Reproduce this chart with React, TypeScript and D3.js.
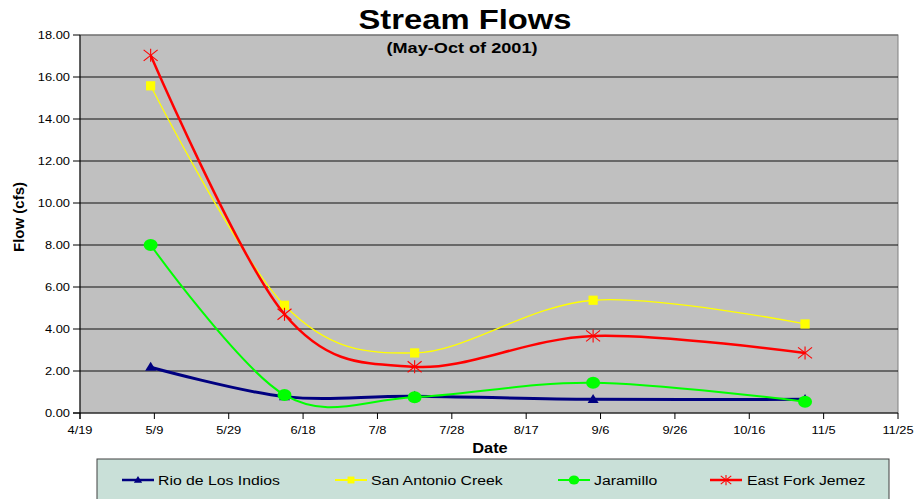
import React from "react";
import * as d3 from "d3";

const YEAR = 2001;
const dates = ["5/8", "6/13", "7/18", "9/4", "10/31"];
const rioDeLosIndios = [2.18, 0.78, 0.8, 0.65, 0.65];
const sanAntonioCreek = [15.58, 5.13, 2.86, 5.37, 4.24];
const jaramillo = [8.0, 0.86, 0.75, 1.44, 0.54];
const eastForkJemez = [17.03, 4.7, 2.2, 3.67, 2.86];
const seriesNames = ["Rio de Los Indios", "San Antonio Creek", "Jaramillo", "East Fork Jemez"];
const xTickLabels = ["4/19", "5/9", "5/29", "6/18", "7/8", "7/28", "8/17", "9/6", "9/26", "10/16", "11/5", "11/25"];
const yTickValues = [0, 2, 4, 6, 8, 10, 12, 14, 16, 18];

const parse = (s: string) => {
  const [m, d] = s.split("/").map(Number);
  return new Date(YEAR, m - 1, d);
};

const W = 914, H = 499;
const L = 80, R = 898, T = 35, B = 413;
const SX = 1.17; // horizontal stretch seen in the reference

const x = d3.scaleTime().domain([parse(xTickLabels[0]), parse(xTickLabels[xTickLabels.length - 1])]).range([L, R]);
const y = d3.scaleLinear().domain([0, 18]).range([B, T]);

const FONT = "Arial, 'Liberation Sans', Helvetica, sans-serif";

function SText(props: { x: number; y: number; size: number; bold?: boolean; anchor?: string; children: any; sx?: number }) {
  const { x: tx, y: ty, size, bold, anchor = "start", children, sx = SX } = props;
  return (
    <text transform={`translate(${tx},${ty}) scale(${sx},1)`} fontFamily={FONT} fontSize={size}
      fontWeight={bold ? "bold" : "normal"} textAnchor={anchor} fill="#000">{children}</text>
  );
}

type Kind = "tri" | "sq" | "circ" | "star";
function Marker({ kind, cx, cy, s = 1 }: { kind: Kind; cx: number; cy: number; s?: number }) {
  if (kind === "tri") {
    const w = 5.5 * s, h = 9 * s;
    return <path d={`M${cx},${cy - h * 0.6}L${cx + w},${cy + h * 0.4}L${cx - w},${cy + h * 0.4}Z`} fill="#000080" />;
  }
  if (kind === "sq") {
    const a = 4.6 * s;
    return <rect x={cx - a} y={cy - a} width={2 * a} height={2 * a} fill="#FFFF00" />;
  }
  if (kind === "circ") {
    return <ellipse cx={cx} cy={cy} rx={7 * s} ry={6 * s} fill="#00FF00" />;
  }
  const a = 7 * s, b = 5.5 * s;
  return (
    <g stroke="#FF0000" strokeWidth={1.1}>
      <line x1={cx - a} y1={cy - b} x2={cx + a} y2={cy + b} />
      <line x1={cx - a} y1={cy + b} x2={cx + a} y2={cy - b} />
      <line x1={cx} y1={cy - b - 1} x2={cx} y2={cy + b + 1} />
    </g>
  );
}

const series: { name: string; values: number[]; color: string; width: number; kind: Kind }[] = [
  { name: seriesNames[0], values: rioDeLosIndios, color: "#000080", width: 3, kind: "tri" },
  { name: seriesNames[1], values: sanAntonioCreek, color: "#FFFF00", width: 1.3, kind: "sq" },
  { name: seriesNames[2], values: jaramillo, color: "#00FF00", width: 2, kind: "circ" },
  { name: seriesNames[3], values: eastForkJemez, color: "#FF0000", width: 2.5, kind: "star" },
];

const line = d3.line<[Date, number]>().x(d => x(d[0])).y(d => y(d[1])).curve(d3.curveCardinal.tension(0));

const legendPos = [
  { lx: 122, tx: 158 },
  { lx: 335, tx: 371 },
  { lx: 558, tx: 594 },
  { lx: 710, tx: 747 },
];

export default function App() {
  const dts = dates.map(parse);
  return (
    <svg width={W} height={H} style={{ position: "absolute", left: 0, top: 0, background: "#fff" }}>
      <rect x={L} y={T} width={R - L} height={B - T} fill="#C0C0C0" stroke="#808080" strokeWidth={1} />
      {yTickValues.slice(1).map(v => (
        <line key={v} x1={L} x2={R} y1={y(v)} y2={y(v)} stroke={v === 18 ? "#666" : "#111"} strokeWidth={1.2} />
      ))}
      {/* axes */}
      <line x1={L} x2={L} y1={T} y2={B + 6} stroke="#000" strokeWidth={1} />
      <line x1={L - 7} x2={R} y1={B} y2={B} stroke="#000" strokeWidth={1.2} />
      {yTickValues.map(v => (
        <g key={v}>
          <line x1={L - 7} x2={L} y1={y(v)} y2={y(v)} stroke="#000" />
          <SText x={70} y={y(v) + 4} size={11} anchor="end">{v.toFixed(2)}</SText>
        </g>
      ))}
      {xTickLabels.map(t => {
        const xx = x(parse(t));
        return (
          <g key={t}>
            <line x1={xx} x2={xx} y1={B} y2={B + 6} stroke="#000" />
            <SText x={xx} y={434} size={11} anchor="middle">{t}</SText>
          </g>
        );
      })}
      {/* series */}
      {series.map(s => (
        <g key={s.name}>
          <path d={line(dts.map((d, i) => [d, s.values[i]] as [Date, number])) || ""} fill="none" stroke={s.color} strokeWidth={s.width} />
          {dts.map((d, i) => <Marker key={i} kind={s.kind} cx={x(d)} cy={y(s.values[i])} />)}
        </g>
      ))}
      {/* titles */}
      <SText x={465} y={29} size={28} bold anchor="middle">Stream Flows</SText>
      <SText x={462} y={53} size={15.5} bold anchor="middle">(May-Oct of 2001)</SText>
      <SText x={490} y={453} size={14} bold anchor="middle">Date</SText>
      <text transform={`translate(24,217) rotate(-90)`} fontFamily={FONT} fontSize={15} fontWeight="bold" textAnchor="middle">Flow (cfs)</text>
      {/* legend */}
      <rect x={97} y={459} width={792} height={50} fill="#C9E0D8" stroke="#404040" strokeWidth={1} />
      {series.map((s, i) => {
        const p = legendPos[i];
        return (
          <g key={s.name}>
            <line x1={p.lx} x2={p.lx + 32} y1={480} y2={480} stroke={s.color} strokeWidth={s.width > 2 ? 2.5 : 2} />
            <Marker kind={s.kind} cx={p.lx + 16} cy={480} s={0.75} />
            <SText x={p.tx} y={485} size={13.5}>{s.name}</SText>
          </g>
        );
      })}
    </svg>
  );
}
